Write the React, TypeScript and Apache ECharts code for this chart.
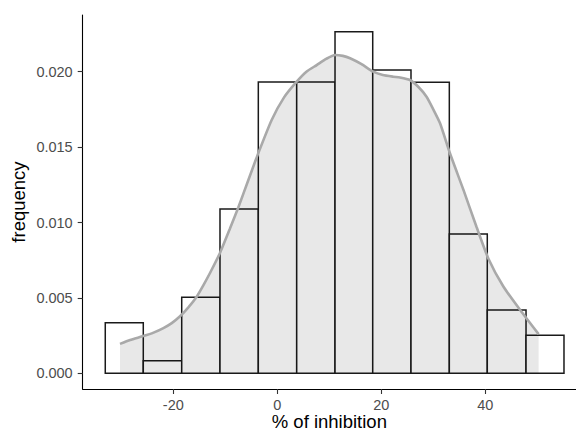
import React, { useEffect, useRef } from "react";
import * as echarts from "echarts";

// Histogram bin edges (% of inhibition) and densities
const binEdges = [-33.08, -25.77, -18.38, -11.02, -3.65, 3.73, 11.1, 18.35, 25.71, 33.08, 40.38, 47.83, 55.13];
const binDensity = [0.00336, 0.00084, 0.00504, 0.0109, 0.01932, 0.01932, 0.02265, 0.02011, 0.0193, 0.00924, 0.0042, 0.00252];

// Kernel density curve (x, density)
const densityX = [-30.25, -28.3, -25.77, -23.8, -21.9, -20.3, -18.7, -17.1, -15.5, -14.2, -12.94, -11.0, -9.1, -7.5, -5.58, -3.65, -1.08, 1.3, 3.73, 5.6, 7.58, 9.4, 11.1, 12.6, 14, 16.2, 18.46, 20.3, 22.3, 23.6, 25.5, 27.1, 28.7, 30.0, 31.3, 33.2, 35.8, 38.3, 40.6, 43.5, 46.7, 50.25];
const densityY = [0.00195, 0.00221, 0.00247, 0.0027, 0.003, 0.00333, 0.00378, 0.00437, 0.00508, 0.00585, 0.00665, 0.0080, 0.0096, 0.011, 0.0128, 0.0146, 0.0168, 0.0183, 0.01934, 0.02, 0.02044, 0.02085, 0.02111, 0.02105, 0.02089, 0.0205, 0.02, 0.01978, 0.01967, 0.01962, 0.01945, 0.019, 0.01834, 0.0175, 0.01658, 0.01459, 0.01216, 0.00972, 0.0076, 0.00574, 0.0042, 0.0026];

const xTicks = [-20, 0, 20, 40];
const yTicks = [0, 0.005, 0.01, 0.015, 0.02];

export default function App() {
  const ref = useRef<HTMLDivElement>(null);
  useEffect(() => {
    if (!ref.current) return;
    const chart = echarts.init(ref.current, null, { renderer: "svg" });
    const bars = binDensity.map((d, i) => [binEdges[i], binEdges[i + 1], d]);
    const curve = densityX.map((x, i) => [x, densityY[i]]);
    const font = "Liberation Sans, Arial, Helvetica, sans-serif";
    chart.setOption({
      animation: false,
      backgroundColor: "#ffffff",
      grid: { left: 82.7, right: 0, top: 15, bottom: 42, containLabel: false, outerBoundsMode: "none" },
      xAxis: {
        type: "value",
        min: -37.42,
        max: 57.44,
        splitLine: { show: false },
        axisLine: { onZero: false, lineStyle: { color: "#000", width: 1.1 } },
        axisTick: { customValues: xTicks, length: 5, lineStyle: { color: "#333", width: 1.1 } },
        axisLabel: { customValues: xTicks, color: "#4d4d4d", fontSize: 14.5, fontFamily: font, margin: 8 },
        name: "% of inhibition",
        nameLocation: "middle",
        nameGap: 32.5,
        nameMoveOverlap: false,
        nameTextStyle: { color: "#000", fontSize: 18.5, fontFamily: font, lineHeight: 18, verticalAlign: "middle" },
      },
      yAxis: {
        type: "value",
        min: -0.00104,
        max: 0.02376,
        splitLine: { show: false },
        axisLine: { show: true, onZero: false, lineStyle: { color: "#000", width: 1.1 } },
        axisTick: { show: true, customValues: yTicks, length: 5, lineStyle: { color: "#333", width: 1.1 } },
        axisLabel: {
          customValues: yTicks,
          color: "#4d4d4d",
          fontSize: 14.5,
          fontFamily: font,
          margin: 10,
          formatter: (v: number) => v.toFixed(3),
        },
        name: "frequency",
        nameLocation: "middle",
        nameGap: 55,
        nameMoveOverlap: false,
        nameTextStyle: { color: "#000", fontSize: 18.5, fontFamily: font },
      },
      series: [
        {
          type: "custom",
          data: bars,
          encode: { x: [0, 1], y: 2 },
          renderItem: (params: any, api: any) => {
            const p0 = api.coord([api.value(0), api.value(2)]);
            const p1 = api.coord([api.value(1), 0]);
            return {
              type: "rect",
              shape: { x: p0[0], y: p0[1], width: p1[0] - p0[0], height: p1[1] - p0[1] },
              style: { fill: "#ffffff", stroke: "#1a1a1a", lineWidth: 1.5 },
            };
          },
        },
        {
          type: "line",
          data: curve,
          smooth: 0.2,
          showSymbol: false,
          symbol: "none",
          lineStyle: { color: "#a9a9a9", width: 2.6 },
          areaStyle: { color: "rgba(0,0,0,0.09)", opacity: 1, origin: 0 },
        },
      ],
    });
    return () => chart.dispose();
  }, []);
  return <div ref={ref} style={{ position: "fixed", left: 0, top: 0, width: 576, height: 431 }} />;
}
